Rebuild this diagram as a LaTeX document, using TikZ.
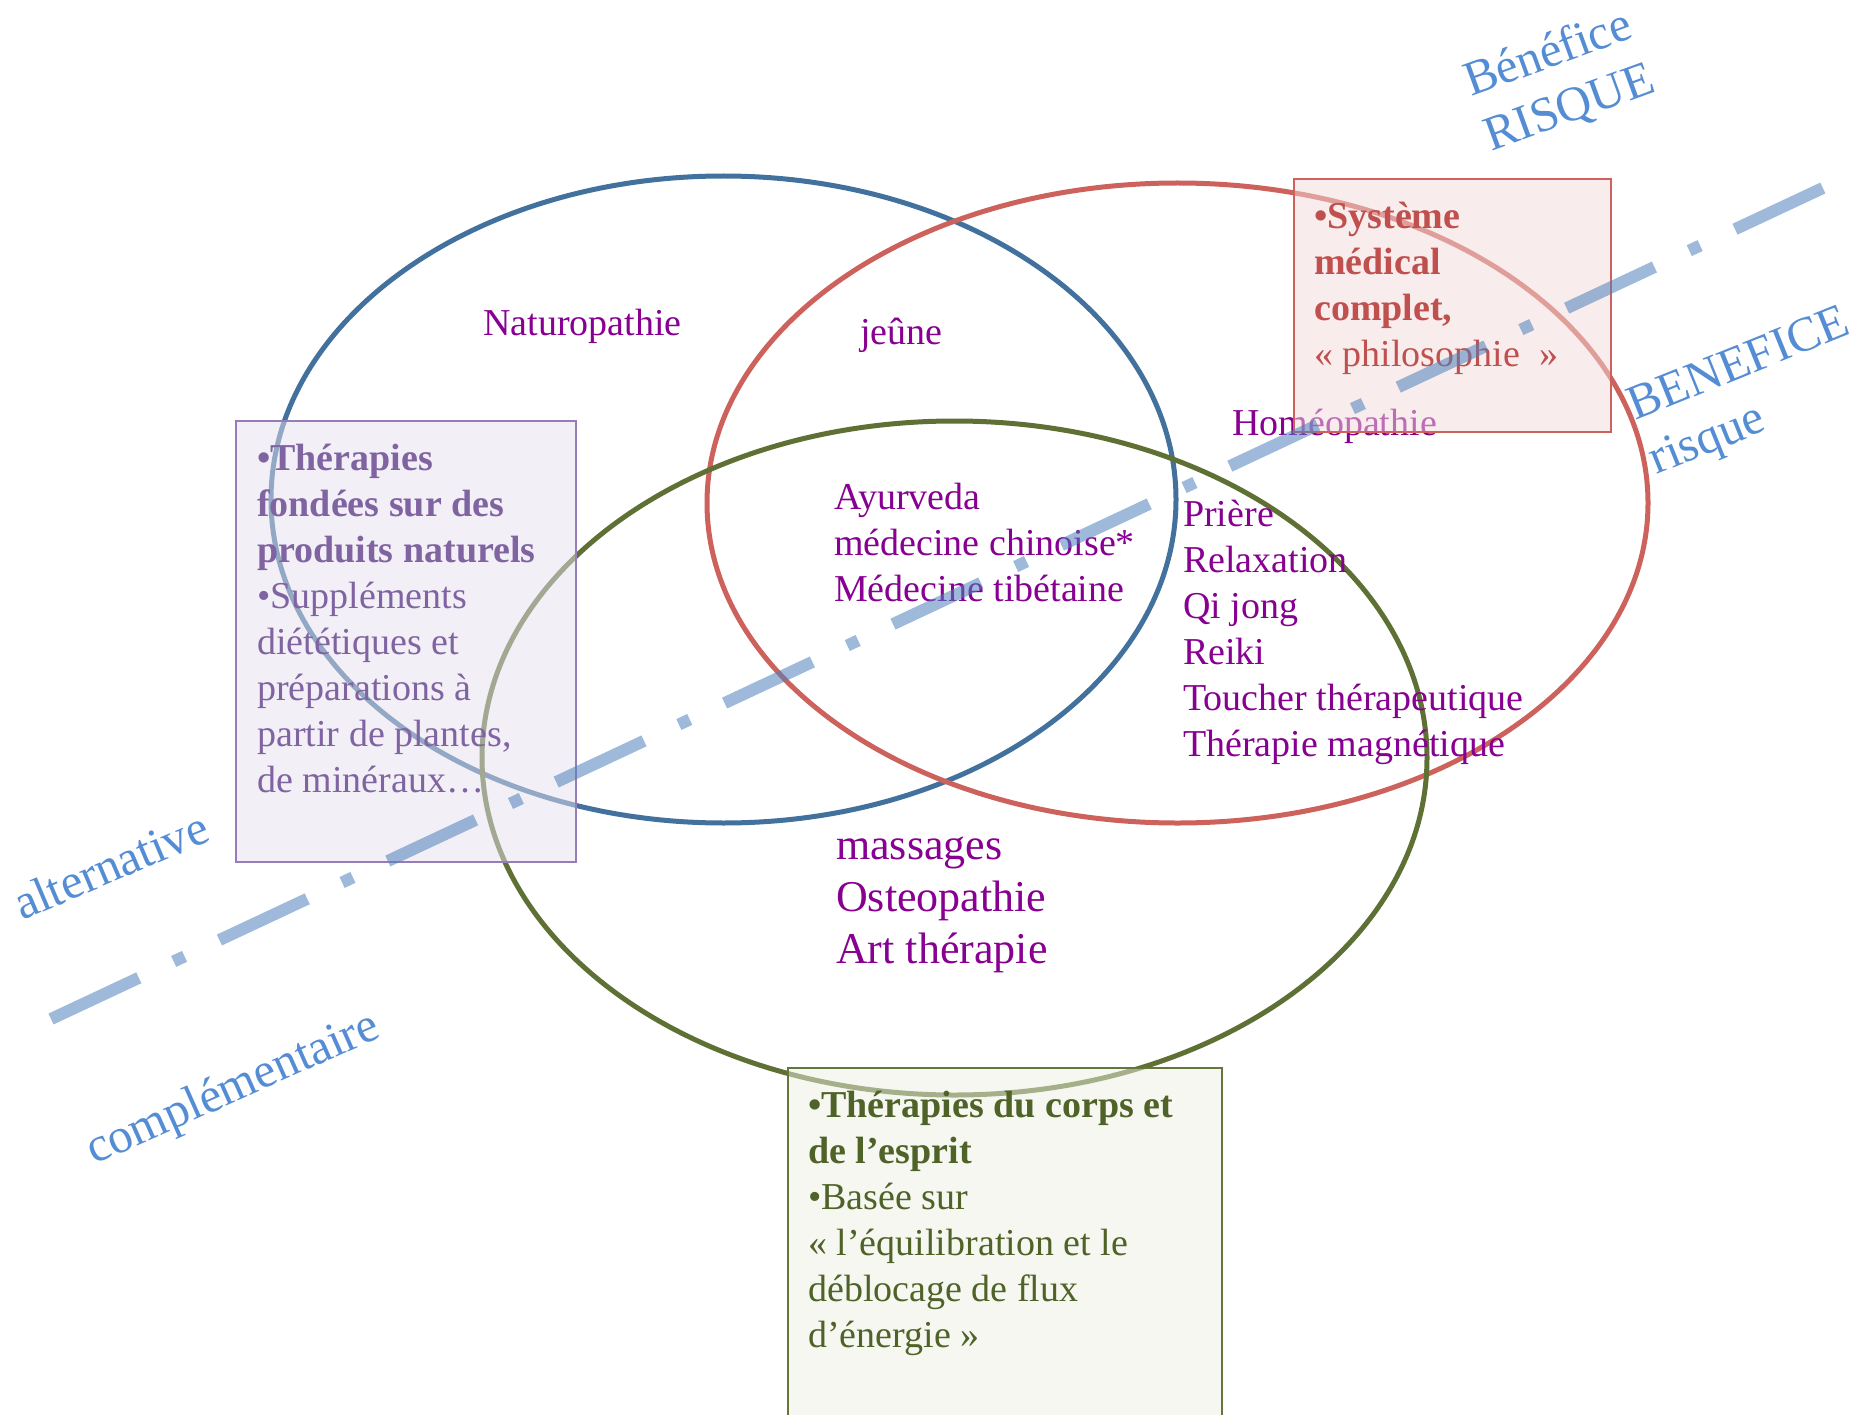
\documentclass[tikz,border=0pt]{standalone}
\usepackage{fontspec}
\setmainfont{Liberation Serif}

\definecolor{ringblue}{RGB}{65,113,156}
\definecolor{ringred}{RGB}{205,98,92}
\definecolor{ringgreen}{RGB}{94,112,52}
\definecolor{labelpurple}{RGB}{135,0,145}
\definecolor{natpurple}{RGB}{128,100,162}
\definecolor{natfill}{RGB}{230,224,239}
\definecolor{natedge}{RGB}{150,125,185}
\definecolor{sysred}{RGB}{192,80,77}
\definecolor{sysfill}{RGB}{243,218,218}
\definecolor{sysedge}{RGB}{205,98,92}
\definecolor{bodygreen}{RGB}{79,98,40}
\definecolor{bodyfill}{RGB}{237,240,227}
\definecolor{bodyedge}{RGB}{100,118,60}
\definecolor{axisblue}{RGB}{84,141,212}
\definecolor{divider}{RGB}{79,129,189}

% left-aligned block of lines whose baseline is the first line
\newcommand{\linesblock}[1]{\begin{tabular}[t]{@{}l@{}}#1\end{tabular}}

\begin{document}
\begin{tikzpicture}[x=1pt,y=-1pt,
  ring/.style={line width=5pt},
  tag/.style={inner sep=0pt, anchor=base west, text=labelpurple,
    font=\fontsize{38}{46}\selectfont},
  bigtag/.style={tag, font=\fontsize{44}{52}\selectfont},
  panel/.style={line width=1.6pt},
  paneltext/.style={inner sep=0pt, anchor=base west,
    font=\fontsize{38}{46}\selectfont},
  axislabel/.style={inner sep=0pt, anchor=base west, text=axisblue,
    font=\fontsize{49}{58}\selectfont},
  divline/.style={draw=divider, draw opacity=0.55, line width=12pt,
    line cap=butt, dash pattern=on 97pt off 38.5pt on 12pt off 38.5pt},
]
% canvas
\path[use as bounding box, fill=white] (0,0) rectangle (1863,1415);

% the three sets
\draw[ring, draw=ringblue]  (723.5,499.5) ellipse [x radius=452.5pt, y radius=323.5pt];
\draw[ring, draw=ringred]   (1177.5,503)  ellipse [x radius=470.5pt, y radius=320pt];
\draw[ring, draw=ringgreen] (954.5,758)   ellipse [x radius=472.5pt, y radius=337pt];

% practices placed in the regions
\node[tag] (naturo) at (483,335) {Naturopathie};
\node[tag] (jeune)  at (860,344) {jeûne};
\node[tag] (homeo)  at (1232,435) {Homéopathie};
\node[tag] (trad)   at (834,509) {\linesblock{Ayurveda\\médecine chinoise*\\Médecine tibétaine}};
\node[tag] (energy) at (1183,526) {\linesblock{Prière\\Relaxation\\Qi jong\\Reiki\\Toucher thérapeutique\\Thérapie magnétique}};
\node[bigtag] (manual) at (836,859) {\linesblock{massages\\Osteopathie\\Art thérapie}};

% description panels
\path[panel, draw=natedge, fill=natfill, fill opacity=0.5] (236,421) rectangle (576,862);
\path[panel, draw=sysedge, fill=sysfill, fill opacity=0.5] (1294,179) rectangle (1611,432);
\path[panel, draw=bodyedge, fill=bodyfill, fill opacity=0.5] (788,1068) rectangle (1222,1420);

\node[paneltext, text=natpurple] (nattext) at (257,470)
  {\linesblock{\textbf{•Thérapies}\\\textbf{fondées sur des}\\\textbf{produits naturels}\\•Suppléments\\diététiques et\\préparations à\\partir de plantes,\\de minéraux…}};
\node[paneltext, text=sysred] (systext) at (1314,229)
  {\linesblock{\textbf{•Système}\\\textbf{médical}\\\textbf{complet,}\\«\ philosophie\ \ »}};
\node[paneltext, text=bodygreen] (bodytext) at (808,1117)
  {\linesblock{\textbf{•Thérapies du corps et}\\\textbf{de l’esprit}\\•Basée sur\\«\ l’équilibration et le\\déblocage de flux\\d’énergie\ »}};

% dividing axis
\coordinate (divstart) at (51,1019);
\coordinate (divend)   at (1825,187);
\draw[divline] (divstart) -- (divend);

% axis labels
\node[axislabel, rotate=20] (riskhigh) at (1471,97) {\linesblock{Bénéfice\\RISQUE}};
\node[axislabel, rotate=22] (benefithigh) at (1635,421) {\linesblock{BENEFICE\\risque}};
\node[axislabel, rotate=23] (alt) at (22,921) {alternative};
\node[axislabel, rotate=24] (compl) at (94,1165) {complémentaire};
\end{tikzpicture}
\end{document}
